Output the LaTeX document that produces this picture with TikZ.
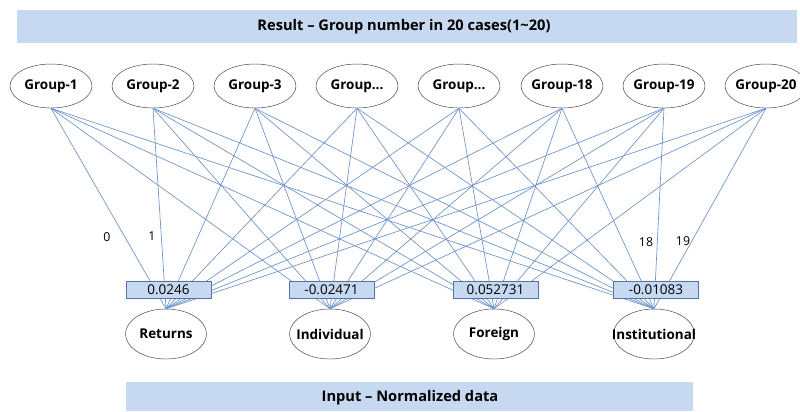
\documentclass[tikz,border=0pt]{standalone}
\usepackage{fontspec}
\setmainfont{Open Sans}
\usetikzlibrary{shapes.geometric}

\definecolor{barblue}{RGB}{198,217,240}
\definecolor{linkblue}{RGB}{105,145,202}
\definecolor{boxedge}{RGB}{85,115,165}

\begin{document}
\begin{tikzpicture}[x=0.03cm,y=-0.03cm,
    bar/.style={fill=barblue,draw=none,font=\fontsize{12.5}{15}\selectfont\bfseries},
    grp/.style={ellipse,draw=black!75,inner sep=0pt,minimum width=2.46cm,minimum height=1.32cm,font=\fontsize{11.5}{13}\selectfont\bfseries},
    inp/.style={ellipse,draw=black!75,inner sep=0pt,minimum width=2.43cm,minimum height=1.5cm,font=\fontsize{11.5}{13}\selectfont\bfseries},
    wbox/.style={draw=boxedge,fill=barblue,inner sep=0pt,minimum width=2.55cm,minimum height=0.51cm,font=\fontsize{11.5}{13}\selectfont},
    link/.style={draw=linkblue,line width=0.55pt},
    idx/.style={font=\fontsize{10.5}{12}\selectfont}]

    \useasboundingbox (0,0) rectangle (800,411);
    \newcommand{\gdots}{Group...}

    % Header and footer bars
    \fill[barblue] (17,10) rectangle (797,43);
    \node[bar] (res) at (404,26.5) {Result -- Group number in 20 cases(1\textasciitilde20)};
    \fill[barblue] (126,382) rectangle (693,411);
    \node[bar] (inbar) at (410,398) {Input -- Normalized data};

    % Output groups
    \foreach \i/\x/\t in {1/51/Group-1,2/153/Group-2,3/255/Group-3,4/357/\gdots,
                          5/459/\gdots,6/562/Group-18,7/664/Group-19,8/766/Group-20} {
        \node[grp] (g\i) at (\x,86) {\makebox[0pt]{\t}};
    }

    % Input variables
    \foreach \j/\x/\t in {1/166/Returns,2/330/Individual,3/494/Foreign,4/654/Institutional} {
        \node[inp] (in\j) at (\x,334) {\makebox[0pt]{\t}};
    }

    % Connections
    \foreach \i in {1,...,8} {
        \foreach \j in {1,...,4} {
            \draw[link] (g\i.south) -- (in\j.north);
        }
    }

    % Values
    \foreach \j/\x/\v in {1/168.5/0.0246,2/331.5/-0.02471,3/495.5/0.052731,4/656/-0.01083} {
        \node[wbox] (w\j) at (\x,289.5) {\v};
    }

    % Line indices
    \node[idx] (n0) at (107,237) {0};
    \node[idx] (n1) at (152,236) {1};
    \node[idx] (n18) at (646,242) {18};
    \node[idx] (n19) at (683,241) {19};

\end{tikzpicture}
\end{document}
